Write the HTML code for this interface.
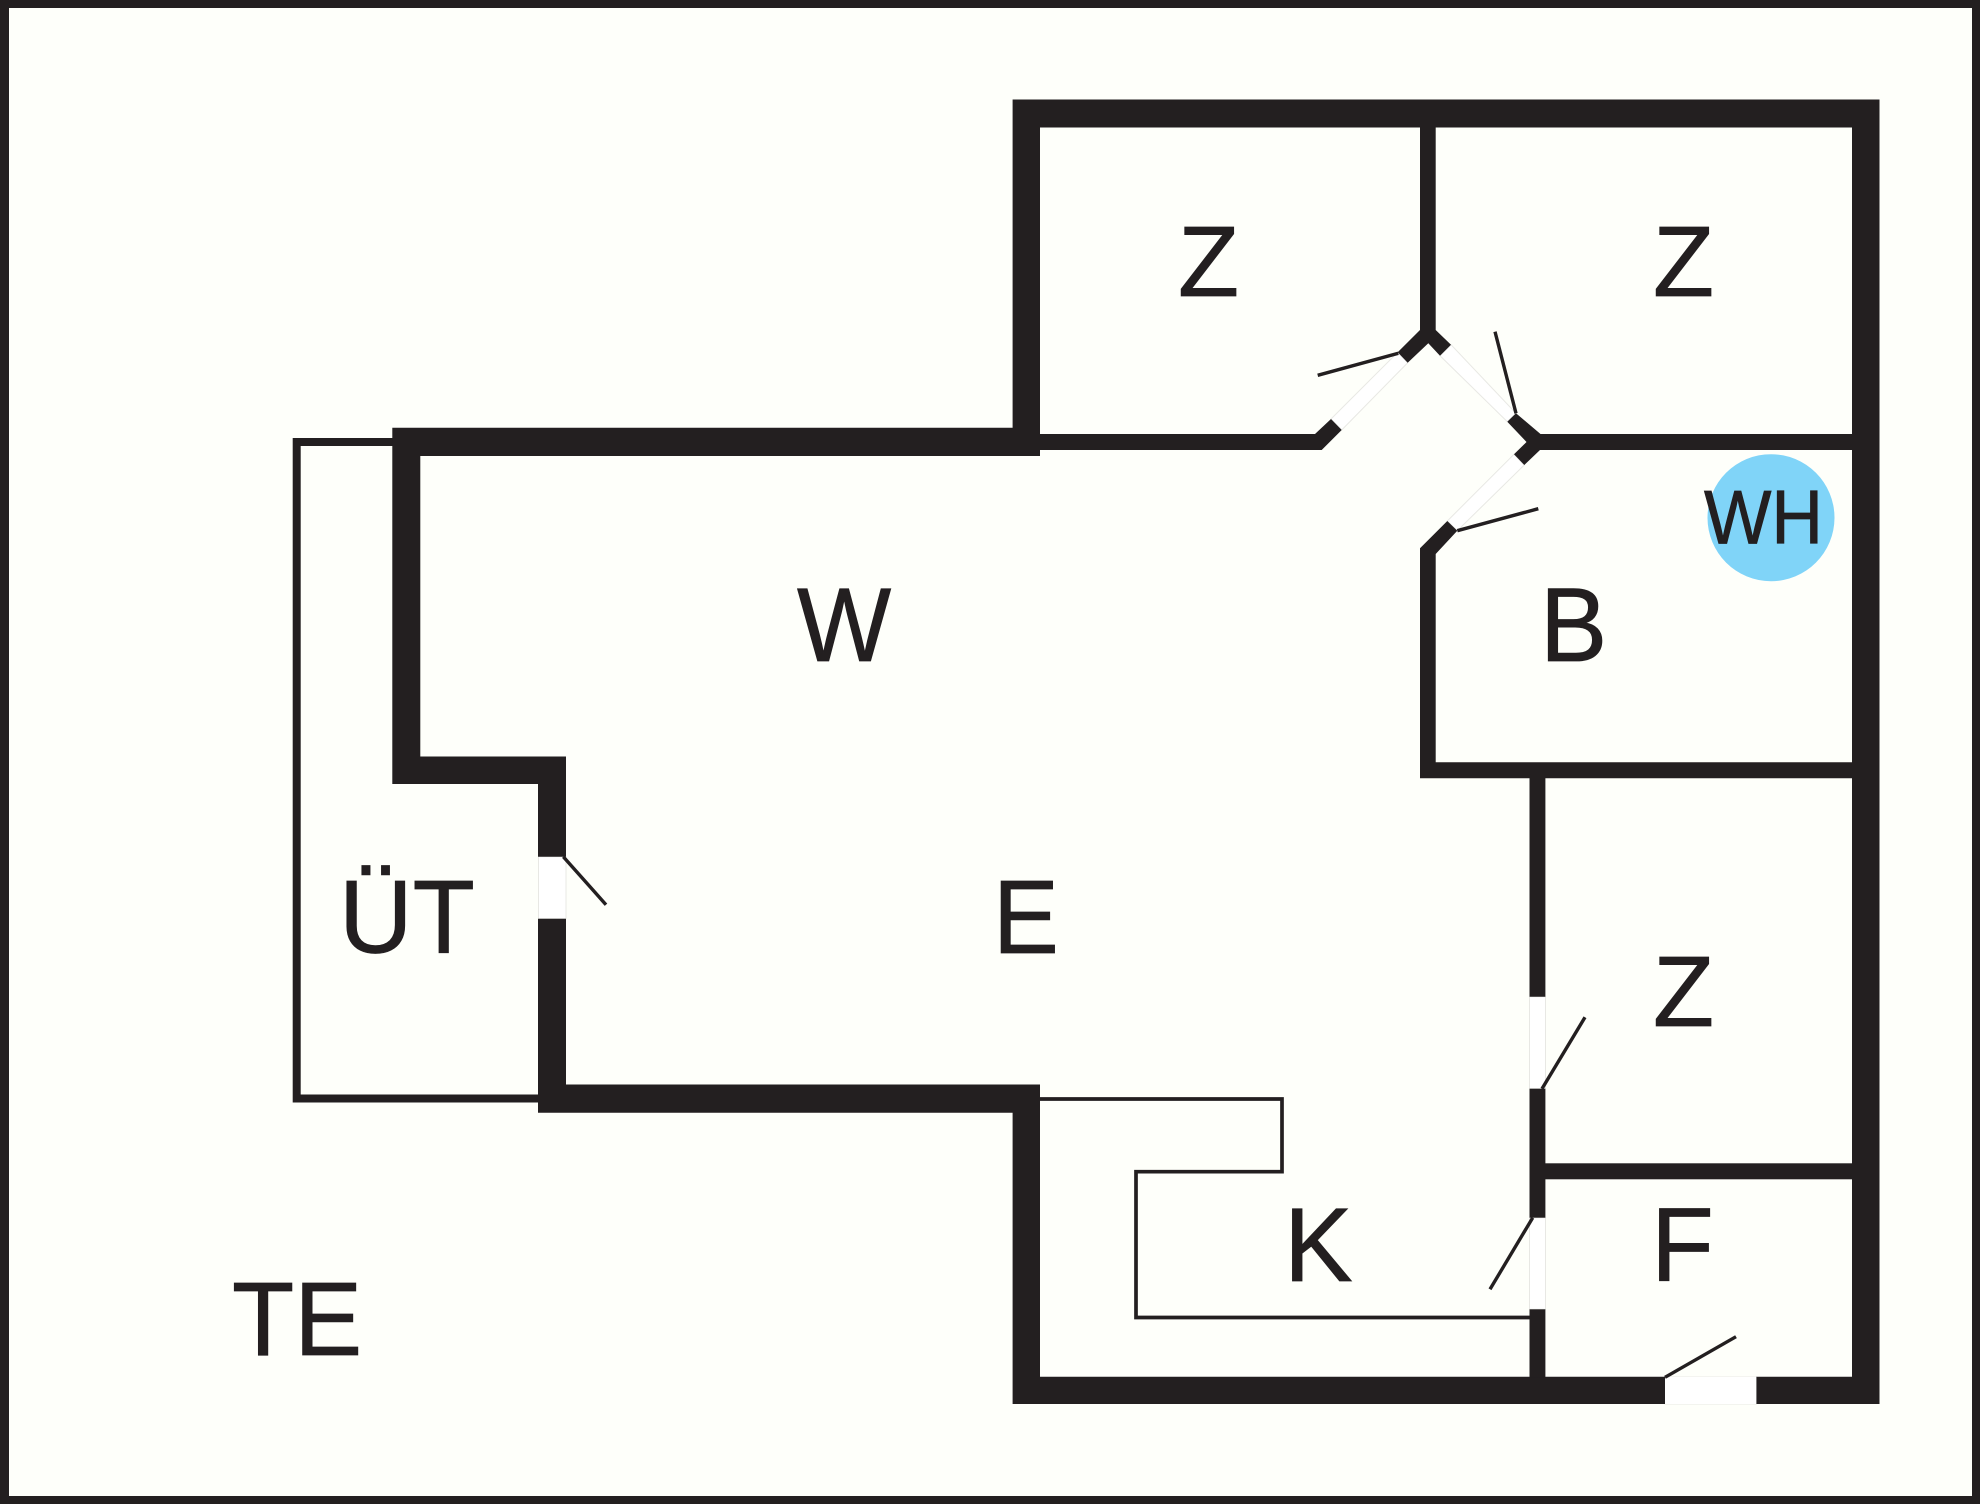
<!DOCTYPE html>
<html>
<head>
<meta charset="utf-8">
<style>
html,body{margin:0;padding:0;background:#fefffa;}
svg{display:block;}
text{font-family:"Liberation Sans",Arial,sans-serif;fill:#231f20;stroke:#231f20;stroke-width:0.8;}
</style>
</head>
<body>
<svg width="1980" height="1504" viewBox="0 0 1980 1504" xmlns="http://www.w3.org/2000/svg">
<rect x="0" y="0" width="1980" height="1504" fill="#231f20"/>
<rect x="9" y="8" width="1963" height="1488" fill="#fefffa"/>

<!-- door openings -->
<g fill="#ffffff" stroke="#e8e8e4" stroke-width="1">
<polygon points="1331,419 1397.7,352.3 1407.7,362.7 1341.7,430"/>
<polygon points="1451,344.7 1516,413.3 1507.3,421.7 1440,355.7"/>
<polygon points="1514,454.3 1524.3,465 1457.3,530.7 1447.3,521"/>
<rect x="538.5" y="856.7" width="27.5" height="62"/>
<rect x="1529.5" y="996.7" width="16" height="92"/>
<rect x="1529.5" y="1217.7" width="16" height="91.6"/>
<rect x="1665" y="1376.7" width="91.3" height="27.3"/>
</g>

<!-- balcony and counter -->
<g fill="none" stroke="#231f20" stroke-linejoin="miter">
<path d="M394,442 H296.7 V1098.5 H540" stroke-width="8"/>
<path d="M1040,1099 H1282 V1171.7 H1136 V1317.5 H1530" stroke-width="3.7"/>
</g>

<!-- heavy walls -->
<g fill="#231f20">
<polygon points="1012.6,99.5 1879.5,99.5 1879.5,1404 1012.6,1404 1012.6,1112.7 538,1112.7 538,918.7 566,918.7 566,1084.5 1040,1084.5 1040,1376.7 1665,1376.7 1665,1404 1756.3,1404 1756.3,1376.7 1852,1376.7 1852,127.5 1040,127.5 1040,456 420.3,456 420.3,756.5 566,756.5 566,856.7 538,856.7 538,784 392.3,784 392.3,427.7 1012.6,427.7"/>
<rect x="1665" y="1376.7" width="91.3" height="27.3" fill="#ffffff"/>
<polygon points="1420,127 1435.7,127 1435.7,330 1451,344.7 1440,355.7 1428.3,343.3 1407.7,362.7 1397.7,352.3 1420,330"/>
<polygon points="1040,434 1315,434 1331,419 1341.7,430 1321.7,450 1040,450"/>
<polygon points="1516,413.3 1540.5,434 1852,434 1852,450 1540,450 1524.3,465 1514,454.3 1526.5,442 1507.3,421.7"/>
<polygon points="1447.3,521 1457.3,530.7 1435.7,554 1435.7,762.3 1852,762.3 1852,778.3 1545.4,778.3 1545.4,996.7 1529.5,996.7 1529.5,778.3 1420,778.3 1420,548.3"/>
<rect x="1529.5" y="1088.7" width="15.9" height="129"/>
<rect x="1529.5" y="1309.3" width="15.9" height="68"/>
<rect x="1545" y="1163.3" width="308" height="16"/>
</g>

<!-- door swings -->
<g stroke="#231f20" stroke-width="3.4" fill="none">
<line x1="1398.3" y1="353.3" x2="1317.7" y2="375.3"/>
<line x1="1516" y1="413.3" x2="1495" y2="331.7"/>
<line x1="1457.3" y1="530.7" x2="1538.3" y2="508.7"/>
<line x1="563.3" y1="856.7" x2="606" y2="904.7"/>
<line x1="1542" y1="1088.7" x2="1585" y2="1017.3"/>
<line x1="1532.7" y1="1217.7" x2="1490" y2="1289.3"/>
<line x1="1665" y1="1377.3" x2="1736" y2="1336.7"/>
</g>

<circle cx="1771" cy="517.7" r="63.5" fill="#80d4f8"/>

<text transform="translate(1178,296)" font-size="100">Z</text>
<text transform="translate(1653,296)" font-size="100">Z</text>
<text transform="translate(1653,1026)" font-size="100">Z</text>
<text transform="translate(797,661) scale(0.95,1)" font-size="105">W</text>
<text transform="translate(1540,661) scale(0.96,1)" font-size="105">B</text>
<text transform="translate(993,953) scale(0.94,1)" font-size="105">E</text>
<text transform="translate(1284,1281) scale(0.98,1)" font-size="105">K</text>
<text transform="translate(1651,1281) scale(0.98,1)" font-size="105">F</text>
<text transform="translate(339,952.3) scale(0.98,1)" font-size="104">ÜT</text>
<text transform="translate(232,1355) scale(0.97,1)" font-size="105">TE</text>
<text transform="translate(1704,543.3) scale(0.94,1)" font-size="76">WH</text>
</svg>
</body>
</html>
